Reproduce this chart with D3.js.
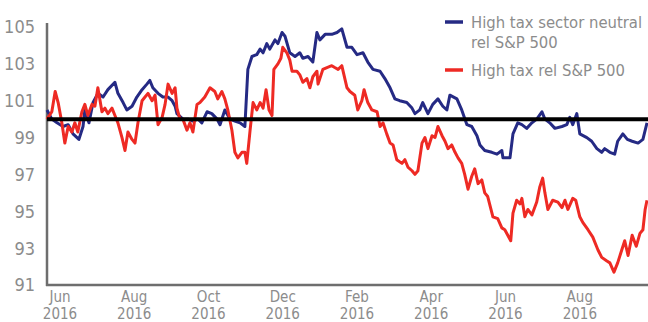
<!DOCTYPE html>
<html>
<head>
<meta charset="utf-8">
<script src="https://cdn.jsdelivr.net/npm/d3@7"></script>
<style>
  body { margin: 0; background: #fff; }
  text { font-family: "Liberation Sans Narrow", "DejaVu Sans Condensed", "Liberation Sans", sans-serif; fill: #8c8c8c; }
</style>
</head>
<body>
<div id="chart"></div>
<script>
var w = 648;
var h = 322;

// y axis ticks, x ticks (months since start of Jun) and their labels
var yTicks = [91, 93, 95, 97, 99, 101, 103, 105];
var xTicks = [0, 2, 4, 6, 8, 10, 12, 14];
var xTickLabels = [["Jun", "2016"], ["Aug", "2016"], ["Oct", "2016"], ["Dec", "2016"],
                   ["Feb", "2016"], ["Apr", "2016"], ["Jun", "2016"], ["Aug", "2016"]];
var seriesNames = ["High tax sector neutral", "rel S&P 500", "High tax rel S&P 500"];
var baseline = 100;

// [months since Jun, value]
var neutral = [[-0.35,100.5],[-0.22,100.0],[-0.08,99.8],[0.08,99.6],[0.22,99.7],[0.35,99.2],[0.51,98.9],[0.62,99.6],[0.67,100.5],[0.78,99.8],[0.89,100.9],[1.02,101.4],[1.16,101.2],[1.29,101.6],[1.48,102.0],[1.56,101.4],[1.70,100.9],[1.80,100.5],[1.94,100.7],[2.07,101.2],[2.21,101.6],[2.34,101.9],[2.42,102.1],[2.50,101.7],[2.64,101.4],[2.77,101.2],[2.91,101.2],[3.02,101.0],[3.10,100.7],[3.15,100.3],[3.31,100.0],[3.45,100.0],[3.58,99.9],[3.72,100.0],[3.82,99.8],[3.96,100.4],[4.09,100.3],[4.23,100.0],[4.31,99.7],[4.44,100.5],[4.58,100.0],[4.71,99.9],[4.85,99.8],[4.98,99.6],[5.06,102.7],[5.17,103.4],[5.30,103.5],[5.39,103.8],[5.47,103.6],[5.57,104.1],[5.65,103.8],[5.79,104.3],[5.87,104.1],[5.98,104.7],[6.06,104.5],[6.19,103.6],[6.33,103.4],[6.46,103.6],[6.54,103.3],[6.68,103.4],[6.81,103.1],[6.92,104.7],[7.00,104.3],[7.14,104.6],[7.32,104.6],[7.46,104.7],[7.59,104.9],[7.73,103.9],[7.86,103.9],[8.00,103.5],[8.16,103.6],[8.29,103.1],[8.43,102.7],[8.62,102.6],[8.75,102.2],[8.89,101.7],[9.02,101.1],[9.15,101.0],[9.34,100.9],[9.48,100.6],[9.56,100.3],[9.69,100.5],[9.77,100.9],[9.91,100.3],[10.04,100.8],[10.18,101.1],[10.31,100.7],[10.42,100.5],[10.50,101.3],[10.69,101.1],[10.82,100.5],[10.96,99.7],[11.09,99.6],[11.23,99.1],[11.31,98.6],[11.44,98.3],[11.63,98.2],[11.77,98.1],[11.90,98.3],[11.93,97.9],[12.12,97.9],[12.20,99.2],[12.33,99.8],[12.44,99.7],[12.57,99.5],[12.71,99.8],[12.84,100.0],[12.98,100.4],[13.06,100.0],[13.19,99.8],[13.33,99.5],[13.52,99.6],[13.65,99.7],[13.73,100.1],[13.81,99.7],[13.92,100.3],[14.00,99.2],[14.19,99.0],[14.32,98.8],[14.46,98.4],[14.59,98.2],[14.67,98.4],[14.81,98.2],[14.94,98.1],[15.02,98.8],[15.16,99.2],[15.28,98.9],[15.41,98.8],[15.57,98.7],[15.70,98.9],[15.81,99.8]];

var highTax = [[-0.35,100.0],[-0.22,100.4],[-0.13,101.5],[-0.05,100.9],[0.05,99.8],[0.13,98.7],[0.22,99.6],[0.32,99.3],[0.40,99.8],[0.48,99.3],[0.59,100.4],[0.67,100.8],[0.75,100.2],[0.86,100.8],[0.94,100.7],[1.02,101.7],[1.13,100.4],[1.21,100.6],[1.29,100.3],[1.40,100.6],[1.48,100.2],[1.56,99.8],[1.67,99.0],[1.75,98.3],[1.83,99.3],[1.94,98.9],[2.02,98.7],[2.10,99.8],[2.21,101.0],[2.29,101.2],[2.37,101.4],[2.48,101.0],[2.56,101.3],[2.64,99.7],[2.75,100.1],[2.83,100.8],[2.91,101.9],[3.02,101.4],[3.10,101.7],[3.15,100.6],[3.23,100.0],[3.31,100.0],[3.42,99.4],[3.50,99.8],[3.58,99.3],[3.69,100.8],[3.77,100.9],[3.90,101.2],[4.04,101.7],[4.17,101.5],[4.25,101.1],[4.36,101.5],[4.44,101.1],[4.52,100.5],[4.63,99.4],[4.71,98.2],[4.79,97.9],[4.90,98.2],[4.98,98.2],[5.03,97.6],[5.12,99.4],[5.20,100.9],[5.30,100.5],[5.39,100.9],[5.47,100.6],[5.55,101.6],[5.63,100.5],[5.71,100.2],[5.76,102.7],[5.87,103.0],[5.95,103.3],[6.00,103.9],[6.11,103.6],[6.19,103.2],[6.25,102.6],[6.38,102.6],[6.46,102.4],[6.54,102.0],[6.65,102.2],[6.73,101.7],[6.81,102.3],[6.92,102.6],[6.95,101.9],[7.08,102.7],[7.19,102.8],[7.32,102.9],[7.40,102.8],[7.49,102.7],[7.59,102.9],[7.73,101.7],[7.81,101.5],[7.94,101.3],[8.02,100.5],[8.13,101.0],[8.19,101.6],[8.29,100.9],[8.40,100.5],[8.54,100.4],[8.62,99.6],[8.70,99.8],[8.80,99.2],[8.89,98.7],[8.97,98.6],[9.07,97.8],[9.21,97.6],[9.29,97.8],[9.37,97.4],[9.48,97.2],[9.56,97.0],[9.64,97.2],[9.75,98.7],[9.83,99.0],[9.91,98.4],[10.02,99.1],[10.10,99.0],[10.18,99.6],[10.29,99.1],[10.37,98.8],[10.45,98.4],[10.55,98.6],[10.64,98.2],[10.72,97.9],[10.82,97.6],[10.90,97.0],[10.99,96.2],[11.09,96.9],[11.17,97.3],[11.26,96.5],[11.36,96.7],[11.44,96.0],[11.52,95.8],[11.66,94.7],[11.79,94.6],[11.90,94.1],[11.98,94.0],[12.06,93.7],[12.14,93.4],[12.20,94.9],[12.30,95.6],[12.39,95.4],[12.44,95.7],[12.52,94.7],[12.60,95.1],[12.71,94.8],[12.84,95.5],[12.92,96.3],[13.00,96.8],[13.06,96.0],[13.14,95.1],[13.27,95.6],[13.41,95.5],[13.52,95.2],[13.60,95.6],[13.68,95.1],[13.81,95.7],[13.89,95.6],[14.00,94.7],[14.08,94.4],[14.22,94.0],[14.35,93.6],[14.49,92.9],[14.59,92.5],[14.73,92.3],[14.81,92.2],[14.92,91.7],[15.02,92.2],[15.13,92.9],[15.21,93.4],[15.30,92.6],[15.41,93.7],[15.52,93.1],[15.62,93.8],[15.70,94.0],[15.76,95.1],[15.81,95.6]];

var blue = "#252a84";
var red = "#ee2a24";

var svg = d3.select("#chart")
        .append("svg")
        .attr("width", w)
        .attr("height", h);

var x = d3.scaleLinear().domain([-0.35, 15.81]).range([47, 647]);
var y = d3.scaleLinear().domain([91, 105]).range([285, 27]);

// axis lines
svg.append("line")
    .attr("x1", 47).attr("x2", 47)
    .attr("y1", 23).attr("y2", y(91) + 1)
    .attr("stroke", "#6e6e6e").attr("stroke-width", 2.5);
svg.append("line")
    .attr("x1", 46).attr("x2", w)
    .attr("y1", y(91)).attr("y2", y(91))
    .attr("stroke", "#6e6e6e").attr("stroke-width", 2.5);

// y tick labels
svg.selectAll("text.ytick")
    .data(yTicks)
    .enter()
    .append("text")
    .attr("class", "ytick")
    .attr("x", 35)
    .attr("y", function(d) { return y(d); })
    .attr("dy", "0.36em")
    .attr("text-anchor", "end")
    .style("font-size", "18px")
    .text(function(d) { return d; });

// x tick labels (two lines)
var xt = svg.selectAll("text.xtick")
    .data(xTicks)
    .enter()
    .append("text")
    .attr("class", "xtick")
    .attr("text-anchor", "middle")
    .style("font-size", "15px");
xt.append("tspan")
    .attr("x", function(d) { return x(d); })
    .attr("y", 302)
    .text(function(d, i) { return xTickLabels[i][0]; });
xt.append("tspan")
    .attr("x", function(d) { return x(d); })
    .attr("y", 319)
    .text(function(d, i) { return xTickLabels[i][1]; });

var line = d3.line()
    .x(function(d) { return x(d[0]); })
    .y(function(d) { return y(d[1]); });

svg.append("path")
    .datum(neutral)
    .attr("fill", "none")
    .attr("stroke", blue)
    .attr("stroke-width", 3)
    .attr("stroke-linejoin", "round")
    .attr("d", line);

svg.append("path")
    .datum(highTax)
    .attr("fill", "none")
    .attr("stroke", red)
    .attr("stroke-width", 3)
    .attr("stroke-linejoin", "round")
    .attr("d", line);

// reference line at 100
svg.append("line")
    .attr("x1", 47).attr("x2", w)
    .attr("y1", y(baseline)).attr("y2", y(baseline))
    .attr("stroke", "#000").attr("stroke-width", 4);

// legend
var legend = svg.append("g");
legend.append("line")
    .attr("x1", 445).attr("x2", 463).attr("y1", 22).attr("y2", 22)
    .attr("stroke", blue).attr("stroke-width", 3.5);
legend.append("line")
    .attr("x1", 445).attr("x2", 463).attr("y1", 70).attr("y2", 70)
    .attr("stroke", red).attr("stroke-width", 3.5);
legend.selectAll("text")
    .data(seriesNames)
    .enter()
    .append("text")
    .attr("x", 471)
    .attr("y", function(d, i) { return [22, 42, 70][i]; })
    .attr("dy", "0.36em")
    .style("font-size", "16.5px")
    .text(function(d) { return d; });
</script>
</body>
</html>
